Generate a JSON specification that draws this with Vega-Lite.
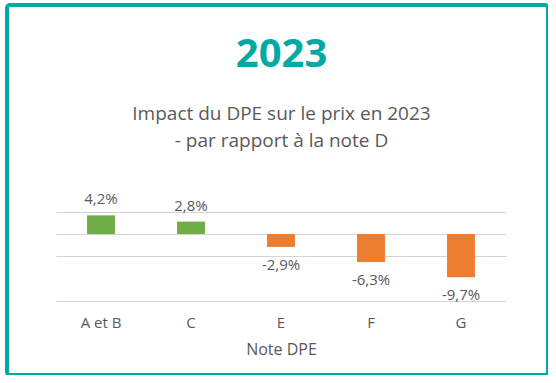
{
  "$schema": "https://vega.github.io/schema/vega-lite/v6.json",
  "autosize": {"type": "none"},
  "width": 541,
  "height": 370,
  "padding": {"left": 7, "top": 5, "right": 0, "bottom": 0},
  "background": "white",
  "config": {
    "view": {"stroke": "#00a9a4", "strokeWidth": 4, "cornerRadius": 3},
    "font": "Open Sans",
    "locale": {
      "number": {"decimal": ",", "thousands": " ", "grouping": [3], "currency": ["", " €"], "minus": "-", "percent": "%"}
    }
  },
  "title": {
    "text": "2023",
    "subtitle": ["Impact du DPE sur le prix en 2023", "- par rapport à la note D"],
    "anchor": "middle",
    "frame": "group",
    "offset": -146,
    "dx": 4,
    "font": "Open Sans",
    "fontSize": 40,
    "fontWeight": "bold",
    "color": "#00a9a4",
    "subtitleFont": "Open Sans",
    "subtitleFontSize": 19,
    "subtitleColor": "#595959",
    "subtitlePadding": 30,
    "subtitleLineHeight": 27
  },
  "data": {
    "values": [
      {"note": "A et B", "impact": 0.042},
      {"note": "C", "impact": 0.028},
      {"note": "E", "impact": -0.029},
      {"note": "F", "impact": -0.063},
      {"note": "G", "impact": -0.097}
    ]
  },
  "encoding": {
    "x": {
      "field": "note",
      "type": "nominal",
      "sort": null,
      "scale": {"range": [49, 499], "paddingInner": 0.69, "paddingOuter": 0.345},
      "axis": {
        "orient": "bottom",
        "offset": -74,
        "domain": false,
        "ticks": false,
        "grid": false,
        "labelPadding": 14,
        "labelFontSize": 15,
        "labelColor": "#595959",
        "labelAngle": 0,
        "title": "Note DPE",
        "titleFontSize": 16,
        "titleFontWeight": "normal",
        "titleColor": "#595959",
        "titlePadding": 11
      }
    },
    "y": {
      "field": "impact",
      "type": "quantitative",
      "scale": {"domain": [-0.317, 0.515], "nice": false, "zero": false},
      "axis": {
        "values": [0.05, 0, -0.05, -0.15],
        "grid": true,
        "gridColor": "#d4d4d4",
        "gridWidth": 1,
        "labels": false,
        "ticks": false,
        "domain": false,
        "title": null
      }
    }
  },
  "layer": [
    {
      "mark": {"type": "bar"},
      "encoding": {
        "color": {"condition": {"test": "datum.impact > 0", "value": "#70ad47"}, "value": "#ed7d31"}
      }
    },
    {
      "transform": [{"filter": "datum.impact > 0"}],
      "mark": {"type": "text", "dy": -16, "fontSize": 15, "color": "#595959", "baseline": "middle"},
      "encoding": {"text": {"field": "impact", "type": "quantitative", "format": ".1%"}}
    },
    {
      "transform": [{"filter": "datum.impact < 0"}],
      "mark": {"type": "text", "dy": 18, "fontSize": 15, "color": "#595959", "baseline": "middle"},
      "encoding": {"text": {"field": "impact", "type": "quantitative", "format": ".1%"}}
    }
  ]
}
